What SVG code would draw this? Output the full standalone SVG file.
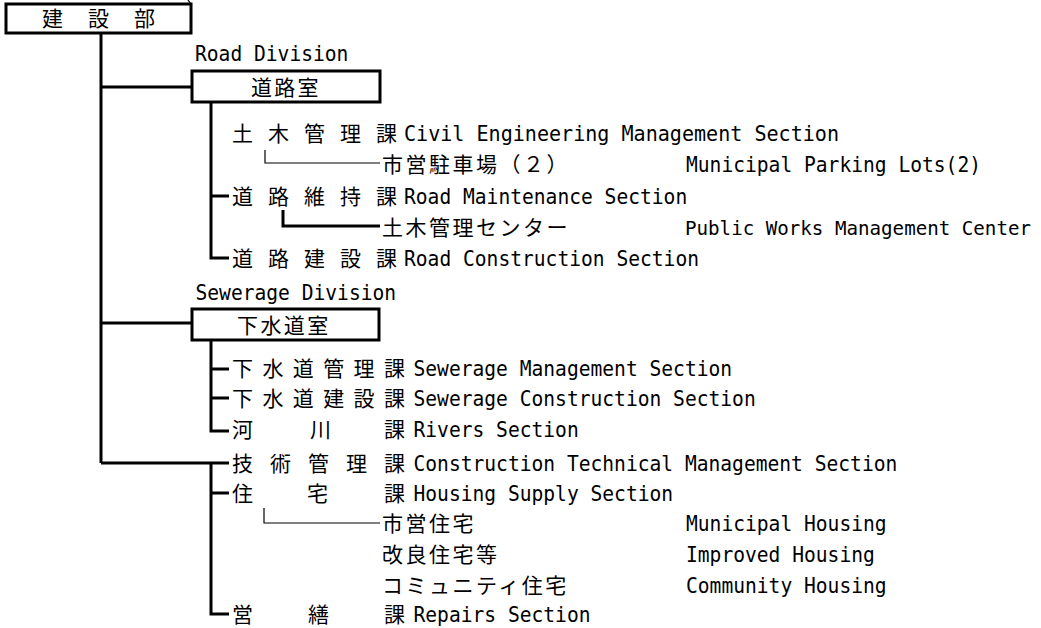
<svg xmlns="http://www.w3.org/2000/svg" width="1041" height="628" viewBox="0 0 1041 628">
<style>
.bg{fill:#fff}
.box{fill:#fff;stroke:#000;stroke-width:3}
.thick{fill:none;stroke:#000;stroke-width:3}
.thin{fill:none;stroke:#000;stroke-width:1.2}
.jp{font-family:"Noto Sans CJK JP","Noto Sans CJK SC",sans-serif;font-size:21px;fill:#000}
.js{letter-spacing:2.5px}
.en{font-family:"DejaVu Sans Mono","Liberation Mono",monospace;font-size:20.5px;fill:#000}
.en-s{font-size:19.4px}
</style>
<rect class="bg" x="0" y="0" width="1041" height="628"/>
<g id="connectors">
<path class="thin" d="M188,0 L191,4"/>
<path class="thick" d="M101,33 V463 M101,87 H192 M101,323 H192 M101,463 H229"/>
<path class="thick" d="M211,102 V258 H229 M211,196 H229"/>
<path class="thin" d="M265,150 V163 H380"/>
<path class="thick" d="M283,210 V226 H380"/>
<path class="thick" d="M211,340 V431 H229 M211,369 H229 M211,398 H229"/>
<path class="thick" d="M211,463 V614 H229 M211,493 H229"/>
<path class="thin" d="M264,508 V523 H380"/>
</g>
<g id="kensetsubu">
<rect class="box" x="6" y="4" width="185" height="29"/>
<text class="jp" x="42 88 134" y="26">建設部</text>
</g>
<g id="road-division">
<text class="en" x="195" y="61" textLength="153.4" lengthAdjust="spacingAndGlyphs">Road Division</text>
<rect class="box" x="192" y="71" width="188" height="31"/>
<text class="jp" x="251 274.3 297.6" y="94.5">道路室</text>
</g>
<g id="doboku-kanri">
<text class="jp" x="232 268 304 340 376" y="141">土木管理課</text>
<text class="en" x="404" y="141" textLength="435" lengthAdjust="spacingAndGlyphs">Civil Engineering Management Section</text>
</g>
<g id="parking">
<text class="jp js" x="382" y="172">市営駐車場（２）</text>
<text class="en" x="686" y="172" textLength="295" lengthAdjust="spacingAndGlyphs">Municipal Parking Lots(2)</text>
</g>
<g id="road-maintenance">
<text class="jp" x="232 268 304 340 376" y="204">道路維持課</text>
<text class="en" x="404" y="204" textLength="283.2" lengthAdjust="spacingAndGlyphs">Road Maintenance Section</text>
</g>
<g id="public-works-center">
<text class="jp js" x="382" y="235">土木管理センター</text>
<text class="en en-s" x="685" y="235" textLength="346" lengthAdjust="spacingAndGlyphs">Public Works Management Center</text>
</g>
<g id="road-construction">
<text class="jp" x="232 268 304 340 376" y="266">道路建設課</text>
<text class="en" x="404" y="266" textLength="295" lengthAdjust="spacingAndGlyphs">Road Construction Section</text>
</g>
<g id="sewerage-division">
<text class="en" x="195.5" y="300" textLength="200.6" lengthAdjust="spacingAndGlyphs">Sewerage Division</text>
<rect class="box" x="192" y="309" width="187" height="31"/>
<text class="jp" x="237 260.4 283.8 307.2" y="332.5">下水道室</text>
</g>
<g id="sewerage-management">
<text class="jp" x="232 262.4 292.8 323.2 353.6 384" y="376">下水道管理課</text>
<text class="en" x="413.5" y="376" textLength="318.6" lengthAdjust="spacingAndGlyphs">Sewerage Management Section</text>
</g>
<g id="sewerage-construction">
<text class="jp" x="232 262.4 292.8 323.2 353.6 384" y="406">下水道建設課</text>
<text class="en" x="413.5" y="406" textLength="342.2" lengthAdjust="spacingAndGlyphs">Sewerage Construction Section</text>
</g>
<g id="rivers">
<text class="jp" x="232 310 384" y="437">河川課</text>
<text class="en" x="413.5" y="437" textLength="165.2" lengthAdjust="spacingAndGlyphs">Rivers Section</text>
</g>
<g id="technical-management">
<text class="jp" x="232 270 308 346 384" y="471">技術管理課</text>
<text class="en" x="413.5" y="471" textLength="483.8" lengthAdjust="spacingAndGlyphs">Construction Technical Management Section</text>
</g>
<g id="housing-supply">
<text class="jp" x="232 307 384" y="501">住宅課</text>
<text class="en" x="413.5" y="501" textLength="259.6" lengthAdjust="spacingAndGlyphs">Housing Supply Section</text>
</g>
<g id="municipal-housing">
<text class="jp js" x="382" y="531">市営住宅</text>
<text class="en" x="686" y="531" textLength="200.6" lengthAdjust="spacingAndGlyphs">Municipal Housing</text>
</g>
<g id="improved-housing">
<text class="jp js" x="382" y="562">改良住宅等</text>
<text class="en" x="686" y="562" textLength="188.8" lengthAdjust="spacingAndGlyphs">Improved Housing</text>
</g>
<g id="community-housing">
<text class="jp js" x="382" y="593">コミュニティ住宅</text>
<text class="en" x="686" y="593" textLength="200.6" lengthAdjust="spacingAndGlyphs">Community Housing</text>
</g>
<g id="repairs">
<text class="jp" x="232 308 384" y="622">営繕課</text>
<text class="en" x="413.5" y="622" textLength="177" lengthAdjust="spacingAndGlyphs">Repairs Section</text>
</g>
</svg>
